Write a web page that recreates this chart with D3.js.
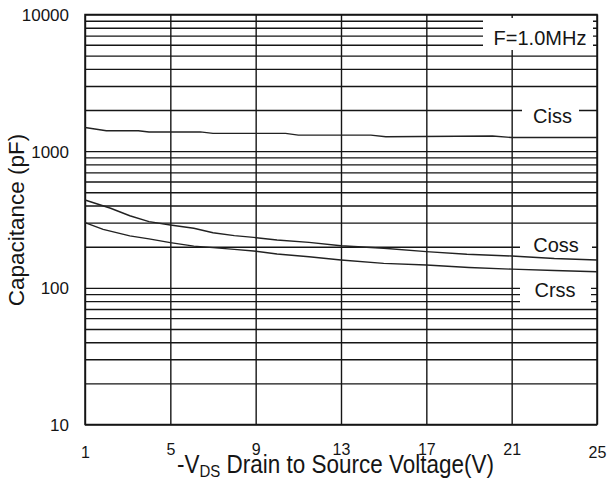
<!DOCTYPE html>
<html><head><meta charset="utf-8">
<script src="https://cdn.jsdelivr.net/npm/d3@7"></script>
<style>body{margin:0;background:#fff}svg{display:block}</style>
</head><body><svg id="c" width="609" height="483"></svg>
<script>
// ---- data ----
const xTicks = [1, 5, 9, 13, 17, 21, 25];
const yTickLabels = [10, 100, 1000, 10000];
const cissV = [1, 2, 3.5, 4, 6.4, 7, 10.4, 11, 14.4, 15.1, 20.1, 21, 25];
const ciss  = [1490, 1410, 1410, 1380, 1385, 1350, 1350, 1310, 1310, 1275, 1290, 1260, 1260];
const cossV = [1, 2.2, 3.1, 4, 5, 6.1, 7, 8, 8.9, 10, 11.5, 13, 15, 17, 18.9, 21, 23, 25];
const coss  = [439, 382, 337, 305, 288, 273, 253, 241, 234, 224, 215, 203, 195, 184, 176, 171, 164, 160];
const crssV = [1, 1.85, 3.1, 4, 5, 6.1, 7, 8, 8.9, 10, 11.5, 13, 15, 17, 19, 21, 23, 25];
const crss  = [300, 268, 240, 228, 214, 202, 197, 191, 186, 177, 169, 160, 151, 147, 141, 137, 134, 131];
const seriesNames = ["Ciss", "Coss", "Crss"];
const noteText = "F=1.0MHz";

// ---- chart ----
const L = 85, R = 597, T = 14.5, B = 424.5;
const FONT = "'Liberation Sans', Arial, sans-serif";
const INK = "#151515";
const svg = d3.select("#c");
const x = d3.scaleLinear().domain([1, 25]).range([L, R]);
const y = d3.scaleLog().domain([10, 10000]).range([B, T]);

const minor = [];
for (const d of [10, 100, 1000]) for (let k = 1; k < 10; k++) minor.push(d * k);
minor.push(10000);

// horizontal grid + y labels
const ya = svg.append("g").attr("transform", `translate(${L},0)`)
  .call(d3.axisLeft(y).tickValues(minor).tickSize(-(R - L)).tickPadding(16)
    .tickFormat(d => yTickLabels.includes(d) ? String(d) : ""));
ya.select(".domain").remove();
ya.selectAll(".tick line").attr("stroke", INK).attr("stroke-width", 1.4);
ya.selectAll(".tick text").attr("font-family", FONT).attr("font-size", 17)
  .attr("fill", INK).attr("dy", "0.36em");

// vertical grid + x labels
const xa = svg.append("g").attr("transform", `translate(0,${B})`)
  .call(d3.axisBottom(x).tickValues(xTicks).tickSize(-(B - T)).tickPadding(22));
xa.select(".domain").remove();
xa.selectAll(".tick line").attr("stroke", INK).attr("stroke-width", 1.4);
xa.selectAll(".tick text").attr("font-family", FONT).attr("font-size", 16).attr("fill", INK)
  .attr("transform", (d, i) => (i > 0 && i < xTicks.length - 1) ? "translate(0,-3)" : null);

// border
svg.append("rect").attr("x", L).attr("y", T).attr("width", R - L).attr("height", B - T)
  .attr("fill", "none").attr("stroke", INK).attr("stroke-width", 1.5);

// white label boxes
const boxes = [
  {x: 483, y: 18, w: 110, h: 32},
  {x: 522, y: 96, w: 57, h: 30},
  {x: 520, y: 230, w: 72, h: 27},
  {x: 520, y: 276, w: 71, h: 29}
];
svg.selectAll("rect.box").data(boxes).join("rect").attr("class", "box")
  .attr("x", d => d.x).attr("y", d => d.y).attr("width", d => d.w).attr("height", d => d.h)
  .attr("fill", "#fff");

// curves
const line = d3.line().x(d => x(d[0])).y(d => y(d[1]));
const series = [
  cissV.map((v, i) => [v, ciss[i]]),
  cossV.map((v, i) => [v, coss[i]]),
  crssV.map((v, i) => [v, crss[i]])
];
svg.selectAll("path.curve").data(series).join("path").attr("class", "curve")
  .attr("d", line).attr("fill", "none").attr("stroke", "#222").attr("stroke-width", 1.4);

// labels
const lab = [
  {t: noteText, x: 540, y: 45},
  {t: seriesNames[0], x: 552.5, y: 123},
  {t: seriesNames[1], x: 556, y: 251.5},
  {t: seriesNames[2], x: 555, y: 296.5}
];
svg.selectAll("text.lab").data(lab).join("text").attr("class", "lab")
  .attr("x", d => d.x).attr("y", d => d.y).attr("text-anchor", "middle")
  .attr("font-family", FONT).attr("font-size", 20).attr("fill", INK).text(d => d.t);

// axis titles
svg.append("text").attr("transform", "translate(24,220) rotate(-90)")
  .attr("text-anchor", "middle").attr("font-family", FONT).attr("font-size", 22.5)
  .attr("fill", INK).text("Capacitance (pF)");

const xt = svg.append("text").attr("transform", "translate(177,473) scale(1,1.12)")
  .attr("font-family", FONT).attr("font-size", 22.5).attr("fill", INK);
xt.append("tspan").text("-V");
xt.append("tspan").attr("font-size", 15).attr("dy", 4).text("DS");
xt.append("tspan").attr("dy", -4).text(" Drain to Source Voltage(V)");
</script></body></html>
